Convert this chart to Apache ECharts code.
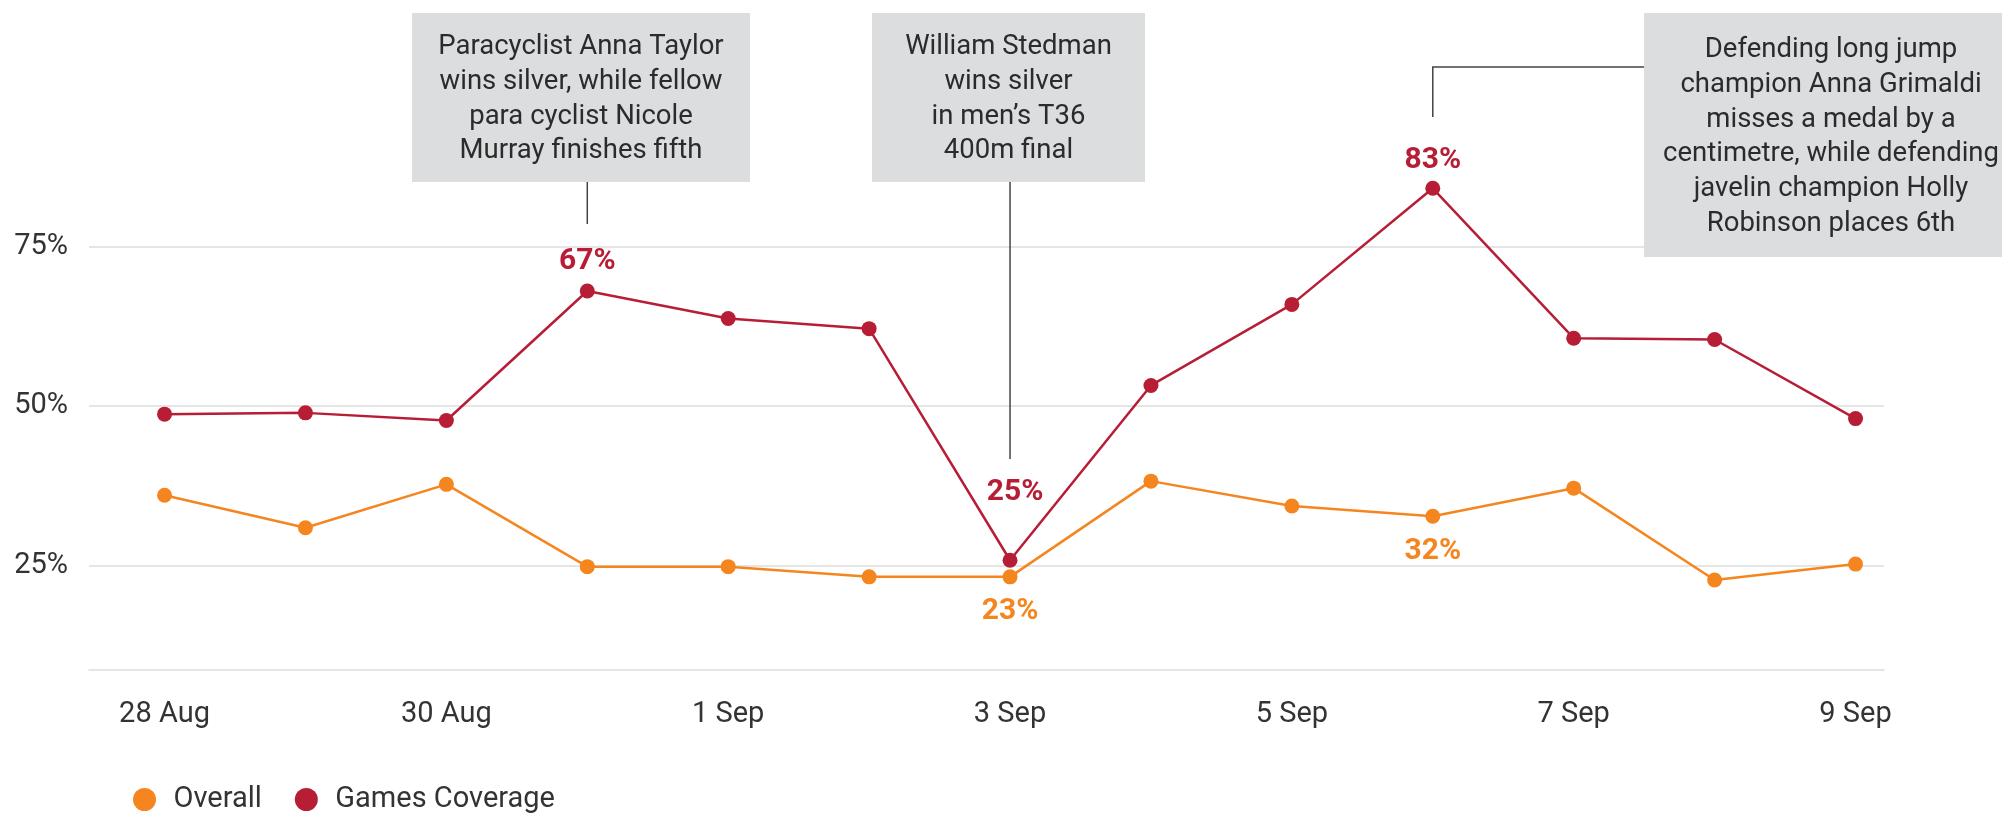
<!DOCTYPE html>
<html>
<head>
<meta charset="utf-8">
<script src="https://cdn.jsdelivr.net/npm/echarts@6/dist/echarts.min.js"></script>
<style>
html, body { margin: 0; padding: 0; background: #fff; }
#main { width: 2002px; height: 814px; }
</style>
</head>
<body>
<div id="main"></div>
<script>
// data (percent)
var days = ['28 Aug', '29 Aug', '30 Aug', '31 Aug', '1 Sep', '2 Sep', '3 Sep', '4 Sep', '5 Sep', '6 Sep', '7 Sep', '8 Sep', '9 Sep'];
var overall = [36.0, 30.9, 37.7, 24.8, 24.8, 23.2, 23.2, 38.2, 34.3, 32.7, 37.1, 22.7, 25.2];
var coverage = [48.7, 48.9, 47.7, 68.0, 63.7, 62.1, 25.8, 53.2, 65.9, 84.1, 60.6, 60.4, 48.0];
// value labels printed on the chart
var overallCallouts = [null, null, null, null, null, null, '23%', null, null, '32%', null, null, null];
var coverageCallouts = [null, null, null, '67%', null, null, '25%', null, null, '83%', null, null, null];
var yTicks = [25, 50, 75];
var xTicks = [0, 2, 4, 6, 8, 10, 12];

var notes = [
    { day: 3, text: 'Paracyclist Anna Taylor\nwins silver, while fellow\npara cyclist Nicole\nMurray finishes fifth',
      box: [412, 13, 338, 169], lineTo: 224 },
    { day: 6, text: 'William Stedman\nwins silver\nin men\u2019s T36\n400m final',
      box: [872, 13, 273, 169], lineTo: 459 },
    { day: 9, text: 'Defending long jump\nchampion Anna Grimaldi\nmisses a medal by a\ncentimetre, while defending\njavelin champion Holly\nRobinson places 6th',
      box: [1644, 13, 374, 244], lineTo: 117, elbowY: 67, textX: 1831 }
];

var RED = '#b71e36';
var ORANGE = '#f5861f';
var FONT = 'Roboto';

// label distance tweaks per point
var coverageDist = { 3: 7, 6: 45, 9: 5 };
var overallDist = { 6: 12, 9: 13 };

function buildData(values, callouts, pos, dist, color) {
    return values.map(function (v, i) {
        var item = { value: [i, v] };
        if (callouts[i]) {
            item.label = {
                show: true,
                position: pos,
                distance: dist[i],
                offset: (pos === 'top' && i === 6) ? [5, 0] : [0, 0],
                formatter: callouts[i],
                color: color,
                fontSize: 30,
                fontWeight: 'bold',
                fontFamily: FONT
            };
        }
        return item;
    });
}

var myChart = echarts.init(document.getElementById('main'));

var option = {
    animation: false,
    backgroundColor: '#fff',
    grid: { left: 89, right: 118, top: 99.6, bottom: 144, containLabel: false },
    legend: {
        left: 128,
        top: 780,
        icon: 'circle',
        itemWidth: 48,
        itemHeight: 23,
        itemGap: 33,
        symbolKeepAspect: true,
        data: ['Overall', 'Games Coverage'],
        textStyle: { fontSize: 29, color: '#333', fontFamily: FONT }
    },
    xAxis: {
        type: 'value',
        min: -0.536,
        max: 12.202,
        axisLine: { show: true, onZero: false, lineStyle: { color: '#dddddd', width: 1.5 } },
        axisTick: { show: false, customValues: xTicks },
        axisLabel: {
            customValues: xTicks,
            formatter: function (v) { return days[Math.round(v)]; },
            margin: 30,
            fontSize: 29,
            color: '#333',
            fontFamily: FONT
        },
        splitLine: { show: false }
    },
    yAxis: {
        type: 'value',
        min: 8.6,
        max: 98,
        axisLine: { show: false },
        axisTick: { show: false, customValues: yTicks },
        axisLabel: {
            customValues: yTicks,
            formatter: '{value}%',
            margin: 21,
            fontSize: 29,
            color: '#333',
            fontFamily: FONT
        },
        splitLine: { lineStyle: { color: '#dddddd', width: 1.5 } }
    },
    series: [{
        name: 'Overall',
        type: 'line',
        color: ORANGE,
        symbol: 'circle',
        symbolSize: 15,
        lineStyle: { width: 2.5, color: ORANGE },
        itemStyle: { color: ORANGE },
        z: 3,
        data: buildData(overall, overallCallouts, 'bottom', overallDist, ORANGE)
    }, {
        name: 'Games Coverage',
        type: 'line',
        color: RED,
        symbol: 'circle',
        symbolSize: 15,
        lineStyle: { width: 2.5, color: RED },
        itemStyle: { color: RED },
        z: 4,
        data: buildData(coverage, coverageCallouts, 'top', coverageDist, RED)
    }]
};

myChart.setOption(option);

// annotation boxes, connectors placed on the day's x position
var graphics = [];
notes.forEach(function (n) {
    var px = myChart.convertToPixel({ xAxisIndex: 0, yAxisIndex: 0 }, [n.day, coverage[n.day]]);
    var b = n.box;
    graphics.push({
        type: 'rect',
        shape: { x: b[0], y: b[1], width: b[2], height: b[3] },
        style: { fill: '#dcdddf' },
        z: 10
    });
    graphics.push({
        type: 'text',
        style: {
            text: n.text,
            x: n.textX || (b[0] + b[2] / 2),
            y: b[1] + b[3] / 2 + 2,
            align: 'center',
            verticalAlign: 'middle',
            fontSize: 27.5,
            fontFamily: FONT,
            lineHeight: 34.7,
            fill: '#2b2b2b'
        },
        z: 11
    });
    var pts;
    if (n.elbowY) {
        pts = [[b[0], n.elbowY], [px[0], n.elbowY], [px[0], n.lineTo]];
    } else {
        pts = [[px[0], b[1] + b[3]], [px[0], n.lineTo]];
    }
    graphics.push({
        type: 'polyline',
        shape: { points: pts },
        style: { stroke: '#444', lineWidth: 1.5, fill: null },
        z: 10
    });
});
myChart.setOption({ graphic: graphics });
</script>
</body>
</html>
